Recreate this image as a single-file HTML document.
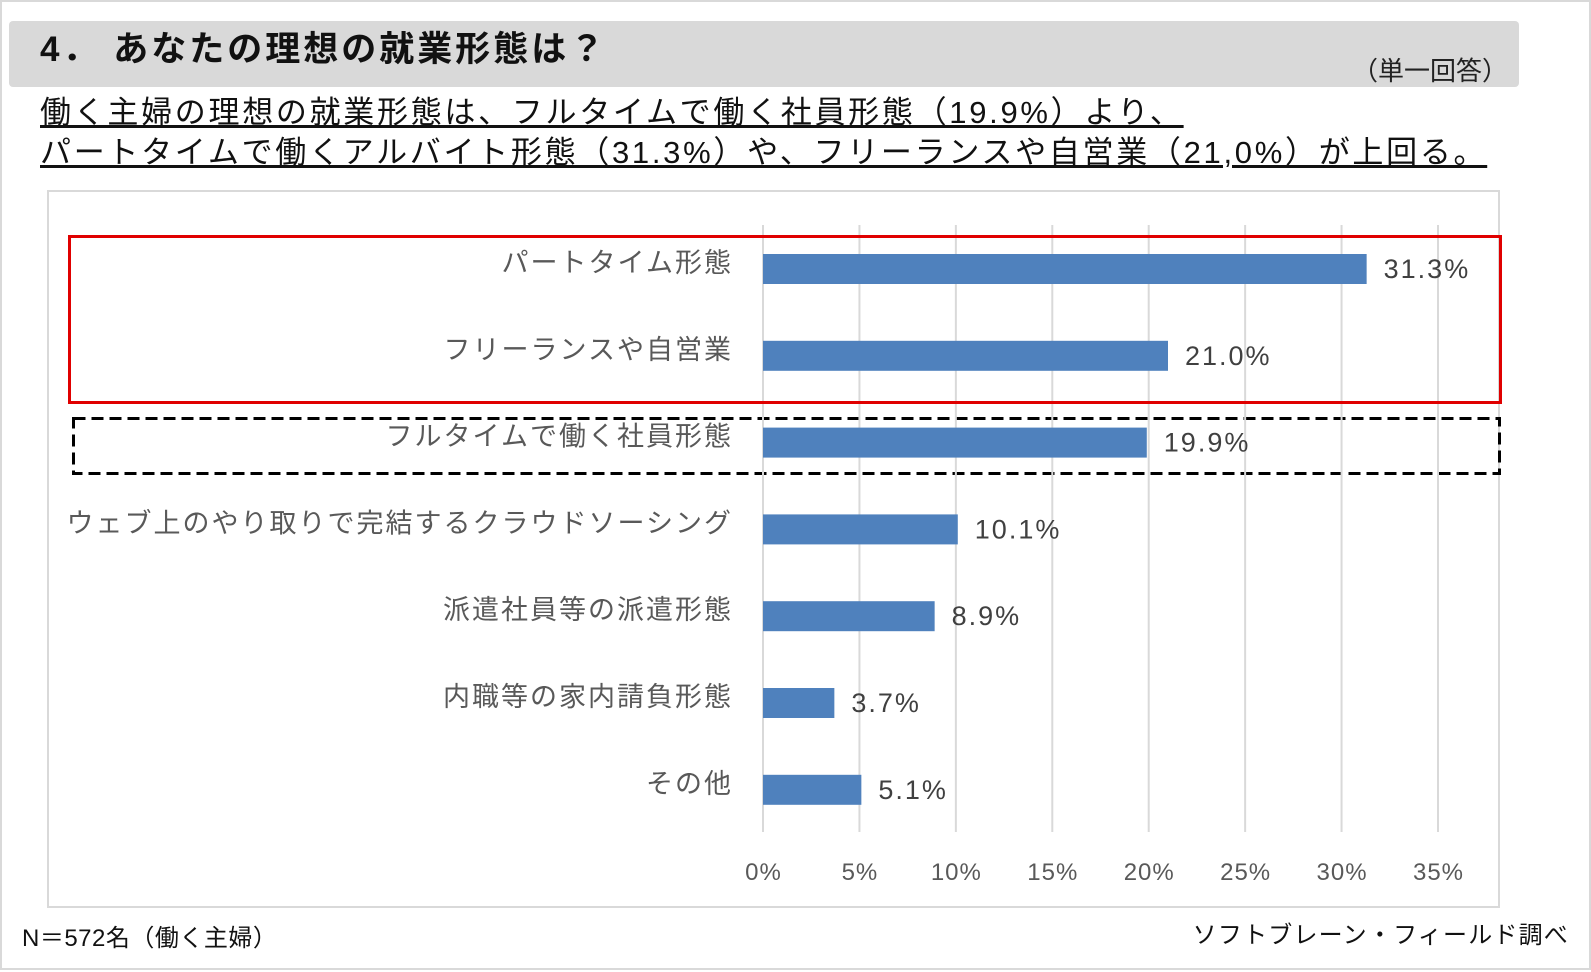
<!DOCTYPE html>
<html><head><meta charset="utf-8"><style>
body{margin:0;width:1591px;height:972px;background:#fff;font-family:"Liberation Sans","Noto Sans CJK JP",sans-serif;position:relative;overflow:hidden}
.abs{position:absolute;white-space:nowrap}
</style></head><body>
<div class="abs" style="left:0;top:0;width:1587px;height:966px;border:2px solid #d9d9d9"></div>
<div class="abs" style="left:9px;top:21px;width:1510px;height:66px;background:#d9d9d9;border-radius:4px"></div>
<div class="abs" style="left:40px;top:21px;font-size:35px;letter-spacing:3px;font-weight:bold;color:#111">4． あなたの理想の就業形態は？</div>
<div class="abs" style="left:1352px;top:51px;font-size:26px;color:#222">（単一回答）</div>
<div class="abs" style="left:40px;top:93px;font-size:31px;letter-spacing:2.7px;line-height:40px;color:#111;text-decoration:underline">働く主婦の理想の就業形態は、フルタイムで働く社員形態（19.9%）より、<br>パートタイムで働くアルバイト形態（31.3%）や、フリーランスや自営業（21,0%）が上回る。</div>
<div class="abs" style="left:47px;top:190px;width:1449px;height:714px;border:2px solid #d9d9d9"></div>
<svg class="abs" id="chart" style="left:0;top:0" width="1591" height="972">
<rect x="73.5" y="418.5" width="1426" height="55" fill="none" stroke="#000" stroke-width="3" stroke-dasharray="12 6"/>
</svg>
<div class="abs" style="left:68px;top:235px;width:1428px;height:163px;border:3px solid #e00000"></div>
<div class="abs" style="left:22px;top:918px;font-size:24px;letter-spacing:0.5px;color:#111">N＝572名（働く主婦）</div>
<div class="abs" style="right:22px;top:915px;font-size:24px;letter-spacing:1.2px;color:#111">ソフトブレーン・フィールド調べ</div>
<script>
const categories=["パートタイム形態","フリーランスや自営業","フルタイムで働く社員形態","ウェブ上のやり取りで完結するクラウドソーシング","派遣社員等の派遣形態","内職等の家内請負形態","その他"];
const values=[31.3,21.0,19.9,10.1,8.9,3.7,5.1];
const ticks=[0,5,10,15,20,25,30,35];
const svg=document.getElementById('chart');
const NS='http://www.w3.org/2000/svg';
const x0=763,x1=1438,xmax=35;
const xs=v=>x0+(x1-x0)*v/xmax;
const yTop=269,step=86.8;
const ys=i=>yTop+i*step;
const FF='Liberation Sans, Noto Sans CJK JP, sans-serif';
function mk(t,a){const e=document.createElementNS(NS,t);for(const k in a)e.setAttribute(k,a[k]);svg.appendChild(e);return e;}
ticks.forEach(t=>{
 const g=mk('line',{x1:xs(t),x2:xs(t),y1:225,y2:832,stroke:'#d9d9d9','stroke-width':2});
 
 
 const l=mk('text',{x:xs(t)+0.5,y:880,'text-anchor':'middle','font-size':24,'letter-spacing':1,fill:'#595959','font-family':FF});
 l.textContent=t+'%';
 
 
});
categories.forEach((c,i)=>{
 const y=ys(i);
 const b=mk('rect',{x:xs(0),y:y-15,width:xs(values[i])-xs(0),height:30,fill:'#4f81bd'});
 
 
 const t=mk('text',{x:733,y:y+3,'text-anchor':'end','font-size':27,'letter-spacing':2,fill:'#595959','font-family':FF});
 t.textContent=c;
 
 
 const v=mk('text',{x:xs(values[i])+17,y:y+9,'font-size':27,'letter-spacing':2,fill:'#404040','font-family':FF});
 v.textContent=values[i].toFixed(1)+'%';
 
 
});
</script>
</body></html>
